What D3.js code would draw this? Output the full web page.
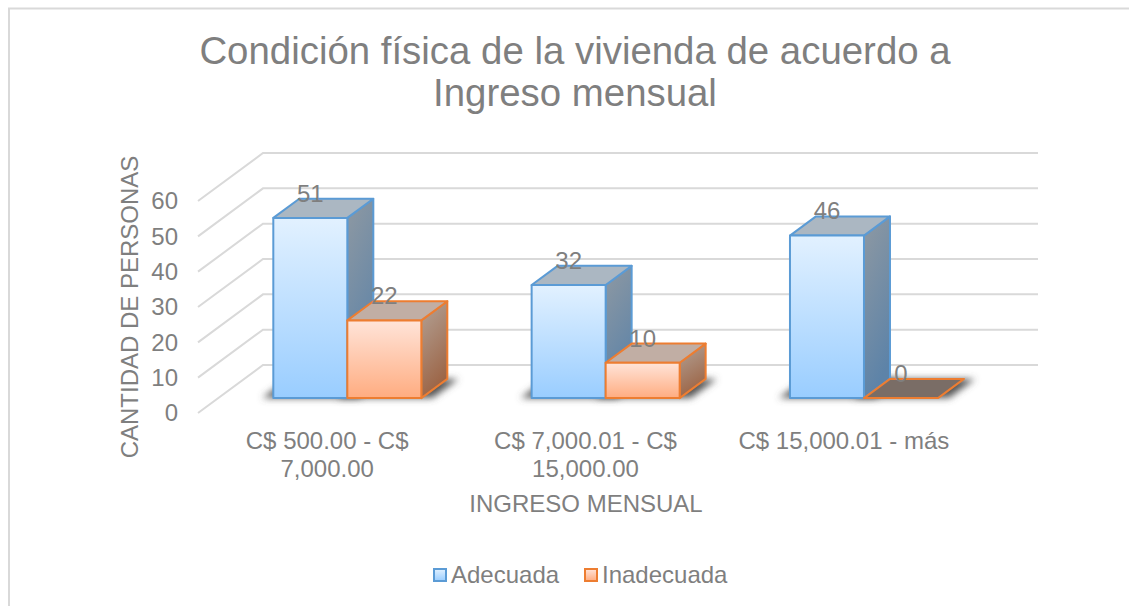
<!DOCTYPE html>
<html lang="es">
<head>
	<meta charset="UTF-8">
	<title>Condición física de la vivienda</title>
	<script src="https://d3js.org/d3.v7.min.js" charset="utf-8"></script>
	<style>
		html, body { margin: 0; padding: 0; background: #fff; overflow: hidden; }
		svg { display: block; }
		text { font-family: "Liberation Sans", Arial, sans-serif; fill: #7f7f7f; }
	</style>
</head>
<body>
	<svg></svg>
	<script>
		const categories = ['C$ 500.00 - C$ 7,000.00', 'C$ 7,000.01 - C$ 15,000.00', 'C$ 15,000.01 - más']
		const adecuada = [51, 32, 46]
		const inadecuada = [22, 10, 0]
		const yTicks = [0, 10, 20, 30, 40, 50, 60]
		const titleLines = ['Condición física de la vivienda de acuerdo a', 'Ingreso mensual']

		const width = 1129
		const height = 606
		const fontSize = 24

		// oblique projection: depth 0 is the front edge of the floor, 1 the back wall
		const depthX = 65
		const depthY = -48
		const depthFront = 0.31
		const depthBack = 0.71

		const x = d3.scaleBand().domain(categories).range([198, 973])
		const y = d3.scaleLinear().domain([0, 60]).range([413, 201])
		const barWidth = x.bandwidth() * 74 / 258.3

		const project = (px, py, d) => [px + d * depthX, py + d * depthY]

		const svg = d3.select('svg')
			.attr('width', width)
			.attr('height', height)

		const defs = svg.append('defs')

		function gradient(id, x2, y2, from, to) {
			const g = defs.append('linearGradient')
				.attr('id', id)
				.attr('x1', 0).attr('y1', 0)
				.attr('x2', x2).attr('y2', y2)
			g.append('stop').attr('offset', 0).attr('stop-color', from)
			g.append('stop').attr('offset', 1).attr('stop-color', to)
		}
		gradient('frontA', 0, 1, '#e2f1ff', '#99cdff')
		gradient('frontI', 0, 1, '#ffe4d9', '#ffac80')
		gradient('sideA', 0.3, 1, '#8f99a2', '#5d83a8')
		gradient('sideI', 0.3, 1, '#b3a398', '#9c6445')

		defs.append('filter')
			.attr('id', 'shadow')
			.attr('x', '-30%').attr('y', '-60%')
			.attr('width', '160%').attr('height', '220%')
			.append('feGaussianBlur')
			.attr('stdDeviation', 3.5)

		const series = [
			{ key: 'Adecuada', values: adecuada, offset: 0, stroke: '#5b9bd5', front: 'url(#frontA)', side: 'url(#sideA)', top: '#abb7c2', flat: '#6f7f8c' },
			{ key: 'Inadecuada', values: inadecuada, offset: 1, stroke: '#ed7d31', front: 'url(#frontI)', side: 'url(#sideI)', top: '#c1aea4', flat: '#7a6d66' }
		]

		// outer chart border, only left and top show in the picture
		svg.append('path')
			.attr('d', `M9,${height}V8.5H${width}`)
			.attr('fill', 'none')
			.attr('stroke', '#d9d9d9')
			.attr('stroke-width', 2)

		// title
		svg.append('g').selectAll('text')
			.data(titleLines)
			.join('text')
			.attr('x', 575)
			.attr('y', (d, i) => 64 + i * 41.5)
			.attr('text-anchor', 'middle')
			.attr('font-size', 38.4)
			.text(d => d)

		// gridlines, side wall and back wall
		const grid = svg.append('g')
			.attr('fill', 'none')
			.attr('stroke', '#d9d9d9')
			.attr('stroke-width', 2)
		grid.selectAll('path')
			.data(yTicks)
			.join('path')
			.attr('d', d => {
				const a = project(x.range()[0], y(d), 0)
				const b = project(x.range()[0], y(d), 1)
				const c = project(x.range()[1], y(d), 1)
				return d3.line()([a, b, c])
			})

		function barPoints(cat, value, s) {
			const left = x(cat) + (x.bandwidth() - barWidth * 2) / 2 + s.offset * barWidth
			const right = left + barWidth
			return { left, right, base: y(0), top: y(value) }
		}

		const poly = pts => d3.line()(pts) + 'Z'

		const rows = series.flatMap(s => s.values.map((v, i) => ({ s, v, cat: categories[i] })))

		// soft floor shadows first
		svg.append('g').selectAll('path')
			.data(rows)
			.join('path')
			.attr('d', d => {
				const b = barPoints(d.cat, d.v, d.s)
				return poly([
					project(b.left - 11, b.base, depthFront),
					project(b.right + 11, b.base, depthFront),
					project(b.right + 11, b.base, depthBack),
					project(b.left - 11, b.base, depthBack)
				])
			})
			.attr('fill', '#555')
			.attr('filter', 'url(#shadow)')

		// bars, one group per series so orange sits over the blue side
		series.forEach(s => {
			const g = svg.append('g')
				.attr('stroke', s.stroke)
				.attr('stroke-width', 2)
				.attr('stroke-linejoin', 'round')
			const data = s.values.map((v, i) => ({ v, b: barPoints(categories[i], v, s) }))

			g.selectAll('path.side')
				.data(data.filter(d => d.v > 0))
				.join('path')
				.attr('class', 'side')
				.attr('fill', s.side)
				.attr('d', d => poly([
					project(d.b.right, d.b.top, depthFront),
					project(d.b.right, d.b.top, depthBack),
					project(d.b.right, d.b.base, depthBack),
					project(d.b.right, d.b.base, depthFront)
				]))

			g.selectAll('path.top')
				.data(data)
				.join('path')
				.attr('class', 'top')
				.attr('fill', d => d.v > 0 ? s.top : s.flat)
				.attr('d', d => poly([
					project(d.b.left, d.b.top, depthFront),
					project(d.b.right, d.b.top, depthFront),
					project(d.b.right, d.b.top, depthBack),
					project(d.b.left, d.b.top, depthBack)
				]))

			g.selectAll('path.front')
				.data(data.filter(d => d.v > 0))
				.join('path')
				.attr('class', 'front')
				.attr('fill', s.front)
				.attr('d', d => {
					const p = project(d.b.left, d.b.top, depthFront)
					const q = project(d.b.right, d.b.base, depthFront)
					return poly([p, [q[0], p[1]], q, [p[0], q[1]]])
				})
		})

		// value labels
		svg.append('g').selectAll('text')
			.data(rows)
			.join('text')
			.attr('text-anchor', 'middle')
			.attr('font-size', fontSize)
			.attr('x', d => {
				const b = barPoints(d.cat, d.v, d.s)
				return project((b.left + b.right) / 2, 0, depthFront)[0]
			})
			.attr('y', d => project(0, y(d.v), depthBack)[1] + 3)
			.text(d => d.v)

		// y axis
		const yAxis = svg.append('g')
			.attr('transform', 'translate(178,0)')
			.call(d3.axisLeft(y).tickValues(yTicks).tickSize(0).tickPadding(0))
		yAxis.select('.domain').remove()
		yAxis.selectAll('text')
			.attr('font-size', fontSize)
			.attr('font-family', null)
			.style('fill', '#7f7f7f')

		// x axis, long labels wrap onto two lines
		const xAxis = svg.append('g')
			.attr('transform', 'translate(0,432)')
			.call(d3.axisBottom(x).tickSize(0).tickPadding(0))
		xAxis.select('.domain').remove()
		xAxis.selectAll('text')
			.attr('font-family', null)
			.attr('font-size', fontSize)
			.style('fill', '#7f7f7f')
			.each(function (d) {
				const text = d3.select(this)
				const words = d.split(' ')
				text.text(null)
				let line = []
				let tspan = text.append('tspan').attr('x', 0).attr('dy', '0.71em')
				words.forEach(w => {
					line.push(w)
					tspan.text(line.join(' '))
					if (tspan.node().getComputedTextLength() > 230) {
						line.pop()
						tspan.text(line.join(' '))
						line = [w]
						tspan = text.append('tspan').attr('x', 0).attr('dy', 27.5).text(w)
					}
				})
			})

		// axis titles
		svg.append('text')
			.attr('x', 586)
			.attr('y', 512)
			.attr('text-anchor', 'middle')
			.attr('font-size', fontSize)
			.text('INGRESO MENSUAL')

		svg.append('text')
			.attr('transform', 'translate(138,307) rotate(-90)')
			.attr('text-anchor', 'middle')
			.attr('font-size', fontSize)
			.text('CANTIDAD DE PERSONAS')

		// legend
		const legendX = d3.scaleOrdinal().domain(series.map(d => d.key)).range([434, 585])
		const legend = svg.append('g').selectAll('g')
			.data(series)
			.join('g')
			.attr('transform', d => `translate(${legendX(d.key)},569)`)
		legend.append('rect')
			.attr('width', 12)
			.attr('height', 12)
			.attr('fill', d => d.front)
			.attr('stroke', d => d.stroke)
			.attr('stroke-width', 2)
		legend.append('text')
			.attr('x', 17)
			.attr('y', 14)
			.attr('font-size', fontSize)
			.text(d => d.key)
	</script>
</body>
</html>
